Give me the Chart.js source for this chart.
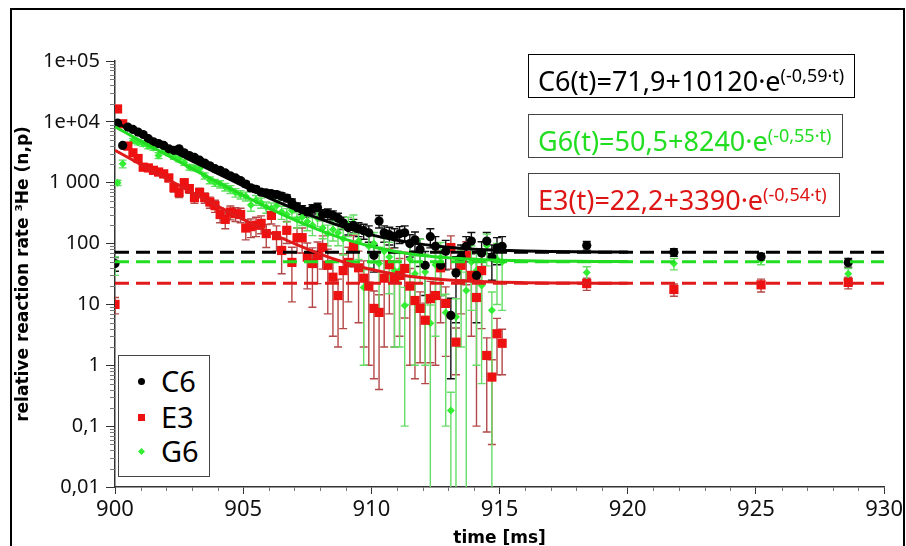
<!DOCTYPE html>
<html><head><meta charset="utf-8">
<script src="https://cdn.jsdelivr.net/npm/chart.js@4.4.1/dist/chart.umd.min.js"></script>
<style>
html,body{margin:0;padding:0;background:#fff;overflow:hidden;width:906px;height:546px;}
#wrap{position:relative;width:906px;height:546px;overflow:hidden;}
#frame{position:absolute;left:10px;top:8px;width:895px;height:600px;border:2px solid #000;box-sizing:border-box;}
#c{position:absolute;left:0;top:0;}
.eq{position:absolute;left:528px;height:44px;line-height:41px;background:#fff;border:1.5px solid #333;font-family:"Noto Sans";font-size:27px;white-space:nowrap;box-sizing:border-box;padding-left:9px;}
.eq .sp{font-size:18px;vertical-align:9px;}
#legend{position:absolute;left:118px;top:355px;width:92px;height:122px;border:1.5px solid #444;background:#fff;box-sizing:border-box;font-family:"Noto Sans";font-size:29px;}
#legend .row{position:absolute;left:42px;height:34px;line-height:34px;}
#legend .mk{position:absolute;}
</style></head>
<body><div id="wrap">
<div id="frame"></div>
<canvas id="c" width="906" height="546"></canvas>
<div class="eq" style="top:54px;width:327px;color:#000;border-color:#000">C6(t)=71,9+10120·e<span class="sp">(-0,59·t)</span></div>
<div class="eq" style="top:114px;width:315px;color:#22dd22;border-color:#444">G6(t)=50,5+8240·e<span class="sp">(-0,55·t)</span></div>
<div class="eq" style="top:173px;width:312px;color:#dd1515;border-color:#444">E3(t)=22,2+3390·e<span class="sp">(-0,54·t)</span></div>
<div id="legend">
  <div class="mk" style="left:19px;top:22px;width:7px;height:7px;border-radius:50%;background:#000"></div>
  <div class="row" style="top:8px">C6</div>
  <div class="mk" style="left:19px;top:58px;width:7px;height:7px;background:#ee1111"></div>
  <div class="row" style="top:44px">E3</div>
  <div class="mk" style="left:20px;top:93px;width:5px;height:5px;background:#33ee33;transform:rotate(45deg)"></div>
  <div class="row" style="top:78px">G6</div>
</div>
</div>
<script>
// ---- data ----
const times = [900.0,
 900.1,900.3,900.5,900.7,900.9,901.1,901.3,901.5,901.7,901.9,
 902.1,902.3,902.5,902.7,902.9,903.1,903.3,903.5,903.7,903.9,
 904.1,904.3,904.5,904.7,904.9,905.1,905.3,905.5,905.7,905.9,
 906.1,906.3,906.5,906.7,906.9,907.1,907.3,907.5,907.7,907.9,
 908.1,908.3,908.5,908.7,908.9,909.1,909.3,909.5,909.7,909.9,
 910.1,910.3,910.5,910.7,910.9,911.1,911.3,911.5,911.7,911.9,
 912.1,912.3,912.5,912.7,912.9,913.1,913.3,913.5,913.7,913.9,
 914.1,914.3,914.5,914.7,914.9,915.1,
 918.4,921.8,925.2,928.6];

const c6Values = [47,
 9500,4100,8200,7500,6800, 6200,5300,4700,4400,4100,
 3600,3400,3600,3100,2800, 2600,2350,2100,1900,1700,
 1600,1450,1300,1200,1080, 950,820,780,700,680,
 660,640,600,560,470, 400,360,330,370,390,
 300,310,290,260,220, 183,200,175,163,150,
 64,235,150,140,130, 145,150,100,115,80,
 44,130,90,44,75, 6.6,33,60,90,110,
 30,70,110,60,85, 90,
 93,72,61,49];
const c6Errors = [12,
 400,250,400,380,350, 320,280,260,250,240,
 220,210,220,200,180, 170,160,150,140,130,
 130,120,110,110,100, 95,90,85,80,80,
 80,80,80,75,70, 65,60,60,65,70,
 60,60,55,55,50, 45,50,45,45,45,
 30,55,45,45,45, 45,45,40,40,38,
 30,45,40,30,38, 6,28,35,40,42,
 25,37,42,35,40, 40,
 15,10,8,8];

const e3Values = [10,
 16300,9300,4000,3100,2500, 1800,1750,1600,1500,1400,
 1200,830,690,1000,800, 570,690,570,480,420,
 300,250,330,310,300, 180,190,200,215,146,
 290,135,77,165,49, 125,125,60,47,64,
 86,44,28,14,36, 49,89,40,27,20,
 8.6,7.4,27,45,27, 30,39,20,11.6,8.6,
 5.5,12.5,14,40,10.4, 86,2.4,44,64,30,
 13,36,1.45,0.64,3.3, 2.3,
 22,17.6,21,23];
const e3Errors = [3,
 1500,900,500,350,300, 220,210,200,190,180,
 160,130,120,150,130, 110,120,110,100,95,
 80,75,85,80,80, 65,65,70,70,60,
 80,60,45,65,38, 55,55,42,38,42,
 48,37,25,12,32, 38,48,35,25,19,
 8,7,25,38,25, 27,33,19,11,7.5,
 5,11.4,13,35,9, 48,1.7,37,43,27,
 12.9,32,1.37,0.59,2.6, 1.6,
 5,4,5,5];

const g6Values = [45,
 1000,2050,4000,4900,4600, 4350,4000,3750,2800,3300,
 3100,2700,2450,2150,1800, 1750,1700,1300,1100,1000,
 950,850,780,690,640, 600,430,520,470,400,
 380,420,330,300,350, 250,270,230,200,260,
 180,146,170,150,120, 200,220,110,19,90,
 100,47,75,60,36, 36,9.6,55,32,70,
 34,4.9,45,59,7.4, 0.18,6.2,40,17,50,
 36,20.5,93,8,55, 50,
 33.5,47,53,32];
const g6Errors = [15,
 100,300,400,450,420, 400,380,350,300,320,
 300,270,250,220,190, 180,180,150,140,130,
 130,120,115,110,100, 100,90,95,90,85,
 85,90,80,75,80, 70,72,68,65,70,
 60,55,60,58,55, 70,75,55,18,50,
 52,40,48,45,34, 34,9.5,45,31,48,
 33,4.9,42,45,7.3, 0.18,6.2,38,17,42,
 35,20,50,8,45, 42,
 8,10,8,7];

// fitted curves as drawn in the reference (1 ms steps)
const fitTimes = [900,901,902,903,904,905,906,907,908,909,910,911,912,913,914,915,916,917,918,919,920];
const c6Fit = [10000,6095,3725,2288,1416,887,566,372,254,182,139,113,97,87,81,77.5,75.3,74,73.2,72.7,72.4];
const g6Fit = [8290,4877,2877,1706,1020,618,383,245,165,117,89.6,73.4,63.9,58.4,55.1,53.2,52.1,51.4,51.0,50.8,50.7];
const e3Fit = [3412,1998,1173,693,413,250,155,99.6,67.3,48.5,37.5,31.1,27.4,25.2,24.0,23.2,22.8,22.5,22.4,22.3,22.2];

// asymptotes (constant terms of the fits)
const asymTimes = [900, 930];
const c6Asym = [71.9, 71.9];
const g6Asym = [50.5, 50.5];
const e3Asym = [22.2, 22.2];

const yTickValues = [0.01, 0.1, 1, 10, 100, 1000, 10000, 100000];
const yTickLabels = ['0,01', '0,1', '1', '10', '100', '1 000', '1e+04', '1e+05'];

// ---- build ----
const pts = (xs, ys) => xs.map((x, i) => ({x, y: ys[i]}));

const errorBars = {
  id: 'errorBars',
  beforeDatasetsDraw(chart) {
    const {ctx, chartArea: a, scales: {x, y}} = chart;
    ctx.save();
    ctx.beginPath();
    ctx.rect(a.left, a.top, a.right - a.left, a.bottom - a.top);
    ctx.clip();
    chart.data.datasets.forEach(ds => {
      if (!ds.errors) return;
      ctx.strokeStyle = ds.errorColor;
      ctx.lineWidth = 1.4;
      const cap = 4;
      ds.data.forEach((p, j) => {
        const e = ds.errors[j];
        const px = x.getPixelForValue(p.x);
        const hi = y.getPixelForValue(p.y + e);
        const lv = p.y - e;
        const lo = lv > 0 ? y.getPixelForValue(lv) : a.bottom + 5;
        ctx.beginPath();
        ctx.moveTo(px, hi); ctx.lineTo(px, lo);
        ctx.moveTo(px - cap, hi); ctx.lineTo(px + cap, hi);
        if (lv > 0) { ctx.moveTo(px - cap, lo); ctx.lineTo(px + cap, lo); }
        ctx.stroke();
      });
    });
    ctx.restore();
  }
};

const minorTicks = {
  id: 'minorTicks',
  afterDraw(chart) {
    const {ctx, chartArea: a, scales: {x, y}} = chart;
    ctx.save();
    ctx.strokeStyle = '#777';
    ctx.lineWidth = 1;
    ctx.beginPath();
    for (let d = -2; d < 5; d++) {
      for (let m = 2; m < 10; m++) {
        const py = Math.round(y.getPixelForValue(m * Math.pow(10, d))) + 0.5;
        ctx.moveTo(a.left - 5, py); ctx.lineTo(a.left, py);
      }
    }
    for (let t = x.min; t <= x.max; t++) {
      if (t % 5 === 0) continue;
      const px = Math.round(x.getPixelForValue(t)) + 0.5;
      ctx.moveTo(px, a.bottom); ctx.lineTo(px, a.bottom + 4);
    }
    ctx.stroke();
    ctx.restore();
  }
};

const BLACK = '#000000', RED = '#ee1111', GREEN = '#33ee33';

new Chart(document.getElementById('c'), {
  type: 'scatter',
  data: {
    datasets: [
      {label: 'C6 fit', data: pts(fitTimes, c6Fit), showLine: true, pointRadius: 0, borderColor: BLACK, borderWidth: 3, cubicInterpolationMode: 'monotone', order: 1},
      {label: 'G6 fit', data: pts(fitTimes, g6Fit), showLine: true, pointRadius: 0, borderColor: '#22dd22', borderWidth: 3, cubicInterpolationMode: 'monotone', order: 2},
      {label: 'E3 fit', data: pts(fitTimes, e3Fit), showLine: true, pointRadius: 0, borderColor: '#e01a1a', borderWidth: 3, cubicInterpolationMode: 'monotone', order: 3},
      {label: 'C6 asym', data: pts(asymTimes, c6Asym), showLine: true, pointRadius: 0, borderColor: BLACK, borderWidth: 3, borderDash: [14, 7], order: 4},
      {label: 'G6 asym', data: pts(asymTimes, g6Asym), showLine: true, pointRadius: 0, borderColor: '#22dd22', borderWidth: 3, borderDash: [14, 7], order: 5},
      {label: 'E3 asym', data: pts(asymTimes, e3Asym), showLine: true, pointRadius: 0, borderColor: '#e01a1a', borderWidth: 3, borderDash: [14, 7], order: 6},
      {label: 'C6', data: pts(times, c6Values), errors: c6Errors, errorColor: '#111', pointStyle: 'circle', pointRadius: 4.6, backgroundColor: BLACK, borderColor: BLACK, borderWidth: 0, order: 7},
      {label: 'E3', data: pts(times, e3Values), errors: e3Errors, errorColor: '#b44848', pointStyle: 'rect', pointRadius: 6.5, backgroundColor: RED, borderColor: RED, borderWidth: 0, order: 8},
      {label: 'G6', data: pts(times, g6Values), errors: g6Errors, errorColor: '#66dd66', pointStyle: 'rectRot', pointRadius: 4, backgroundColor: GREEN, borderColor: GREEN, borderWidth: 0, order: 9}
    ]
  },
  options: {
    responsive: false,
    animation: false,
    devicePixelRatio: 1,
    layout: {padding: {left: 0, top: 61, right: 19, bottom: 0}},
    plugins: {legend: {display: false}, tooltip: {enabled: false}},
    scales: {
      x: {
        type: 'linear', min: 900, max: 930,
        afterFit: s => { s.height = 59; },
        ticks: {stepSize: 5, color: '#111', padding: 3, font: {family: 'Noto Sans', size: 22}},
        grid: {drawOnChartArea: false, drawTicks: true, tickLength: 7, color: '#333', lineWidth: 1},
        border: {display: true, color: '#333', width: 1.5},
        title: {display: true, text: 'time [ms]', color: '#000', font: {family: 'DejaVu Sans', size: 17, weight: 'bold'}, padding: {top: 0, bottom: -3}}
      },
      y: {
        type: 'logarithmic', min: 0.01, max: 100000,
        afterFit: s => { s.width = 115; },
        afterBuildTicks: s => { s.ticks = yTickValues.map(v => ({value: v})); },
        ticks: {color: '#111', padding: 6, font: {family: 'Noto Sans', size: 20},
                callback: (v, i) => yTickLabels[i]},
        grid: {drawOnChartArea: false, drawTicks: true, tickLength: 9, color: '#333', lineWidth: 1},
        border: {display: true, color: '#333', width: 1.5},
        title: {display: true, text: 'relative reaction rate ³He (n,p)', color: '#000', font: {family: 'DejaVu Sans', size: 17, weight: 'bold'}, padding: {top: 13, bottom: 0}}
      }
    }
  },
  plugins: [errorBars, minorTicks]
});
</script>
</body></html>
